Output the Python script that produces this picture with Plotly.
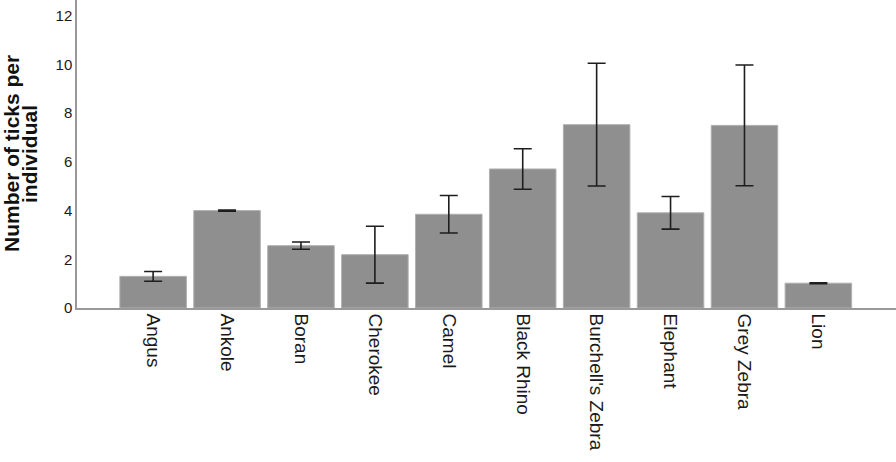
import plotly.graph_objects as go

# bar chart: mean ticks per host animal with error bars
animals = ["Angus", "Ankole", "Boran", "Cherokee", "Camel", "Black Rhino",
           "Burchell's Zebra", "Elephant", "Grey Zebra", "Lion"]
means = [1.3, 4.0, 2.56, 2.19, 3.85, 5.71, 7.53, 3.91, 7.5, 1.02]
errors = [0.2, 0.02, 0.15, 1.17, 0.77, 0.83, 2.52, 0.67, 2.48, 0.02]
y_ticks = [0, 2, 4, 6, 8, 10, 12]
y_title = ["Number of ticks per", "individual"]

fig = go.Figure()
fig.add_trace(go.Bar(
    x=animals, y=means,
    marker=dict(color="#8f8f8f", line=dict(color="#b0b0b0", width=1)),
    error_y=dict(type="data", array=errors, visible=True,
                 color="#1e1e1e", thickness=1.6, width=9),
))

fig.update_layout(
    width=896, height=462,
    margin=dict(l=77, r=0, t=0, b=154),
    plot_bgcolor="white", paper_bgcolor="white",
    bargap=0.1, showlegend=False,
    font=dict(family="Liberation Sans, Arial", color="#1a1a1a"),
)
fig.update_xaxes(
    range=[-1.03, 10.05], tickangle=90, tickfont=dict(size=19),
    showline=True, linecolor="#999999", linewidth=1.5,
    showgrid=False, ticks="", automargin=False,
)
fig.update_yaxes(
    range=[0, 12.65], tickvals=y_ticks, tickfont=dict(size=15),
    showline=True, linecolor="#999999", linewidth=1.5,
    showgrid=False, zeroline=False, ticks="", automargin=False,
)

# two-line y title, placed by hand for tighter line spacing
for txt, xs in zip(y_title, [-66, -48]):
    fig.add_annotation(
        text="<b>" + txt + "</b>", textangle=-90, showarrow=False,
        xref="paper", yref="paper", x=0, y=0.5,
        xanchor="center", yanchor="middle", xshift=xs,
        font=dict(size=21, color="#111111"),
    )

# drop the default page margin so the figure sits at the window corner
fig.write_html("out.html", config={"displayModeBar": False},
               post_script="document.body.style.margin='0';")
